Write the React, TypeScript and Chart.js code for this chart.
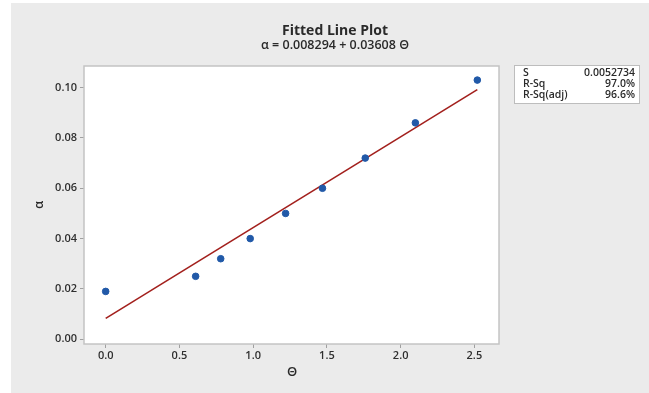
import React, { useEffect, useRef } from "react";
import { Chart, registerables } from "chart.js";

Chart.register(...registerables);

const THETA = [0.0, 0.61, 0.78, 0.98, 1.22, 1.47, 1.76, 2.1, 2.52];
const ALPHA = [0.019, 0.025, 0.032, 0.04, 0.05, 0.06, 0.072, 0.086, 0.103];

// Fitted line end points (α = 0.008294 + 0.03608 Θ)
const FIT_X = [0.0, 2.52];
const FIT_Y = [0.0083, 0.0992];

const X_TICKS = [0, 0.5, 1.0, 1.5, 2.0, 2.5];
const Y_TICKS = [0, 0.02, 0.04, 0.06, 0.08, 0.1];

const TITLE = "Fitted Line Plot";
const SUBTITLE = "α = 0.008294 + 0.03608 Θ";
const X_LABEL = "Θ";
const Y_LABEL = "α";
const STAT_NAMES = ["S", "R-Sq", "R-Sq(adj)"];
const STAT_VALUES = ["0.0052734", "97.0%", "96.6%"];

const FONT = "'Open Sans', 'Noto Sans', 'DejaVu Sans', sans-serif";

const decorPlugin = {
  id: "decor",
  beforeDraw(chart: any) {
    const ctx = chart.ctx;
    const { width, height } = chart;
    const ca = chart.chartArea;
    ctx.save();
    ctx.fillStyle = "#ffffff";
    ctx.fillRect(0, 0, width, height);
    ctx.fillStyle = "#ebebeb";
    ctx.fillRect(11, 3, width - 11, height - 3);
    ctx.fillStyle = "#ffffff";
    ctx.fillRect(ca.left, ca.top, ca.right - ca.left, ca.bottom - ca.top);
    ctx.restore();
  },
  afterDraw(chart: any) {
    const ctx = chart.ctx;
    const ca = chart.chartArea;
    ctx.save();
    // plot border
    ctx.strokeStyle = "#c4c4c4";
    ctx.lineWidth = 1.5;
    ctx.strokeRect(ca.left, ca.top, ca.right - ca.left, ca.bottom - ca.top);

    // titles
    ctx.fillStyle = "#2a2a2a";
    ctx.textAlign = "center";
    ctx.textBaseline = "middle";
    ctx.font = `bold 14px ${FONT}`;
    ctx.fillText(TITLE, 335, 31.5);
    ctx.font = `600 12.5px ${FONT}`;
    ctx.fillText(SUBTITLE, 335, 45.5);

    // axis titles
    ctx.font = `600 13px ${FONT}`;
    ctx.fillText(X_LABEL, 292, 372);
    ctx.save();
    ctx.translate(39, 205);
    ctx.rotate(-Math.PI / 2);
    ctx.fillText(Y_LABEL, 0, 0);
    ctx.restore();

    // stats box
    const bx = 514, by = 65, bw = 125, bh = 38;
    ctx.fillStyle = "#ffffff";
    ctx.fillRect(bx, by, bw, bh);
    ctx.strokeStyle = "#bdbdbd";
    ctx.lineWidth = 1;
    ctx.strokeRect(bx + 0.5, by + 0.5, bw, bh);
    ctx.fillStyle = "#2a2a2a";
    ctx.font = `600 10.5px ${FONT}`;
    STAT_NAMES.forEach((n, i) => {
      const y = 73 + i * 11;
      ctx.textAlign = "left";
      ctx.fillText(n, 523, y);
      ctx.textAlign = "right";
      ctx.fillText(STAT_VALUES[i], 635, y);
    });
    ctx.restore();
  },
};

export default function App() {
  const ref = useRef<HTMLCanvasElement | null>(null);

  useEffect(() => {
    if (!ref.current) return;
    const chart = new Chart(ref.current, {
      type: "scatter",
      data: {
        datasets: [
          {
            label: "Data",
            data: THETA.map((x, i) => ({ x, y: ALPHA[i] })),
            backgroundColor: "#2159a8",
            borderColor: "#2159a8",
            pointRadius: 3.3,
            pointHoverRadius: 3.3,
            order: 1,
          },
          {
            label: "Fit",
            data: FIT_X.map((x, i) => ({ x, y: FIT_Y[i] })),
            showLine: true,
            borderColor: "#a3201d",
            borderWidth: 1.6,
            pointRadius: 0,
            fill: false,
            order: 2,
          },
        ],
      },
      options: {
        responsive: false,
        animation: false,
        events: [],
        layout: { padding: { left: 0, top: 66, right: 150, bottom: 0 } },
        plugins: {
          legend: { display: false },
          title: { display: false },
          tooltip: { enabled: false },
        },
        scales: {
          x: {
            type: "linear",
            min: -0.147,
            max: 2.667,
            afterBuildTicks: (s: any) => {
              s.ticks = X_TICKS.map((v) => ({ value: v }));
            },
            afterFit: (s: any) => {
              s.height = 49;
            },
            grid: {
              drawOnChartArea: false,
              drawTicks: true,
              tickLength: 4,
              color: "#a0a0a0",
            },
            border: { display: false },
            ticks: {
              padding: 1,
              color: "#2f2f2f",
              font: { family: FONT, size: 11, weight: "600" },
              callback: (v: any) => Number(v).toFixed(1),
            },
          },
          y: {
            type: "linear",
            min: -0.0019,
            max: 0.1086,
            afterBuildTicks: (s: any) => {
              s.ticks = Y_TICKS.map((v) => ({ value: v }));
            },
            afterFit: (s: any) => {
              s.width = 84;
            },
            grid: {
              drawOnChartArea: false,
              drawTicks: true,
              tickLength: 4,
              color: "#a0a0a0",
            },
            border: { display: false },
            ticks: {
              padding: 3,
              color: "#2f2f2f",
              font: { family: FONT, size: 11, weight: "600" },
              callback: (v: any) => Number(v).toFixed(2),
            },
          },
        },
      },
      plugins: [decorPlugin],
    } as any);
    return () => chart.destroy();
  }, []);

  return (
    <div style={{ position: "fixed", left: 0, top: 0, width: 649, height: 393 }}>
      <canvas ref={ref} width={649} height={393} style={{ width: 649, height: 393 }} />
    </div>
  );
}
